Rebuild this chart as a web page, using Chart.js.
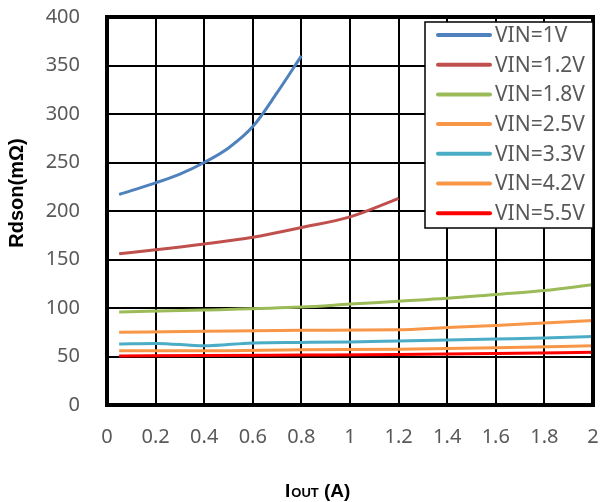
<!DOCTYPE html>
<html>
<head>
<meta charset="utf-8">
<script src="https://cdn.jsdelivr.net/npm/chart.js@4"></script>
<style>
  html, body { margin: 0; padding: 0; background: #fff; }
  #wrap { width: 601px; height: 502px; }
</style>
</head>
<body>
<div id="wrap"><canvas id="chart" width="601" height="502"></canvas></div>
<script>
// 읽어낸 값 (IOUT [A], Rdson [mΩ])
const seriesLabels = ['VIN=1V', 'VIN=1.2V', 'VIN=1.8V', 'VIN=2.5V', 'VIN=3.3V', 'VIN=4.2V', 'VIN=5.5V'];
const seriesColors = ['#4F81BD', '#C0504D', '#9BBB59', '#F79646', '#4BACC6', '#F79646', '#FF0000'];

const vin1x = [0.05, 0.2, 0.3, 0.4, 0.5, 0.6, 0.7, 0.8];
const vin1y = [217, 229, 238, 250, 265, 287, 322, 360];
const vin12x = [0.05, 0.2, 0.4, 0.6, 0.8, 1.0, 1.2];
const vin12y = [156, 160, 166, 173, 183, 194, 213];
const vin18x = [0.05, 0.4, 0.8, 1.0, 1.2, 1.4, 1.6, 1.8, 2.0];
const vin18y = [96, 98, 101, 104, 107, 110, 114, 118, 124];
const vin25x = [0.05, 0.4, 0.8, 1.2, 1.4, 1.6, 1.8, 2.0];
const vin25y = [75, 76, 77, 77.5, 80, 82, 84.5, 87];
const vin33x = [0.05, 0.2, 0.4, 0.6, 0.8, 1.0, 1.2, 1.4, 1.6, 1.8, 2.0];
const vin33y = [63, 63.5, 61, 64, 64.5, 65, 66, 67, 68, 69, 70.5];
const vin42x = [0.05, 0.4, 0.8, 1.2, 1.6, 2.0];
const vin42y = [56, 56, 57, 57.5, 59, 61];
const vin55x = [0.05, 0.4, 0.8, 1.2, 1.6, 2.0];
const vin55y = [50.5, 51, 51.5, 52, 53, 54.5];

const xTicks = [0, 0.2, 0.4, 0.6, 0.8, 1, 1.2, 1.4, 1.6, 1.8, 2];
const yTicks = [0, 50, 100, 150, 200, 250, 300, 350, 400];

const allX = [vin1x, vin12x, vin18x, vin25x, vin33x, vin42x, vin55x];
const allY = [vin1y, vin12y, vin18y, vin25y, vin33y, vin42y, vin55y];

const datasets = seriesLabels.map((label, i) => ({
  label: label,
  data: allX[i].map((x, k) => ({ x: x, y: allY[i][k] })),
  borderColor: seriesColors[i],
  backgroundColor: seriesColors[i],
  borderWidth: 3,
  pointRadius: 0,
  cubicInterpolationMode: 'monotone',
  fill: false
}));

const tickFont = { family: 'Noto Sans', size: 20 };

// 축 눈금 라벨이 chartArea를 밀어내지 않게
function noPad(s) {
  s.paddingTop = 0; s.paddingBottom = 0; s.paddingLeft = 0; s.paddingRight = 0;
}

// 외곽선, 범례, 축 제목
const extras = {
  id: 'extras',
  afterDraw(chart) {
    const ctx = chart.ctx;
    const a = chart.chartArea;
    ctx.save();
    ctx.strokeStyle = '#000';
    ctx.lineWidth = 4;
    ctx.strokeRect(a.left, a.top, a.right - a.left, a.bottom - a.top);

    // 범례
    const bx = 425, by = 22, bw = a.right - 425, bh = 206;
    ctx.fillStyle = '#fff';
    ctx.fillRect(bx, by, bw, bh);
    ctx.lineWidth = 1.5;
    ctx.strokeRect(bx, by, bw, bh);
    ctx.font = '21px "Noto Sans"';
    ctx.textBaseline = 'middle';
    ctx.textAlign = 'left';
    chart.data.datasets.forEach((ds, i) => {
      const y = 35 + i * 29.7;
      ctx.strokeStyle = ds.borderColor;
      ctx.lineWidth = 4;
      ctx.lineCap = 'round';
      ctx.beginPath();
      ctx.moveTo(438, y);
      ctx.lineTo(490, y);
      ctx.stroke();
      ctx.fillStyle = '#595959';
      ctx.fillText(ds.label, 495, y + 1);
    });

    // y축 제목
    ctx.fillStyle = '#000';
    ctx.translate(17, 193);
    ctx.rotate(-Math.PI / 2);
    ctx.textAlign = 'center';
    ctx.font = 'bold 20px "Liberation Sans"';
    ctx.fillText('Rdson(mΩ)', 0, 0);
    ctx.setTransform(1, 0, 0, 1, 0, 0);

    // x축 제목 (I + 아래첨자 OUT)
    ctx.textAlign = 'left';
    ctx.textBaseline = 'alphabetic';
    let x = 285;
    const base = 497;
    ctx.font = 'bold 19px "Liberation Sans"';
    ctx.fillText('I', x, base);
    x += ctx.measureText('I').width + 1;
    ctx.font = 'bold 13px "Liberation Sans"';
    ctx.fillText('OUT', x, base);
    x += ctx.measureText('OUT').width;
    ctx.font = 'bold 19px "Liberation Sans"';
    ctx.fillText(' (A)', x, base);
    ctx.restore();
  }
};

new Chart(document.getElementById('chart'), {
  type: 'line',
  data: { datasets: datasets },
  options: {
    responsive: false,
    animation: false,
    layout: { padding: { left: 0, right: 8, top: 17, bottom: 0 } },
    plugins: { legend: { display: false }, tooltip: { enabled: false } },
    scales: {
      x: {
        type: 'linear',
        min: 0,
        max: 2,
        afterFit: s => { s.height = 97; noPad(s); },
        afterBuildTicks: s => { s.ticks = xTicks.map(v => ({ value: v })); },
        ticks: {
          color: '#595959',
          font: tickFont,
          padding: 20,
          maxRotation: 0,
          autoSkip: false,
          callback: v => String(Math.round(v * 10) / 10)
        },
        grid: { color: '#000', lineWidth: 2, drawTicks: false },
        border: { display: false }
      },
      y: {
        min: 0,
        max: 400,
        afterFit: s => { s.width = 107; noPad(s); },
        afterBuildTicks: s => { s.ticks = yTicks.map(v => ({ value: v })); },
        ticks: { color: '#595959', font: tickFont, padding: 27 },
        grid: { color: '#000', lineWidth: 2, drawTicks: false },
        border: { display: false }
      }
    }
  },
  plugins: [extras]
});
</script>
</body>
</html>
